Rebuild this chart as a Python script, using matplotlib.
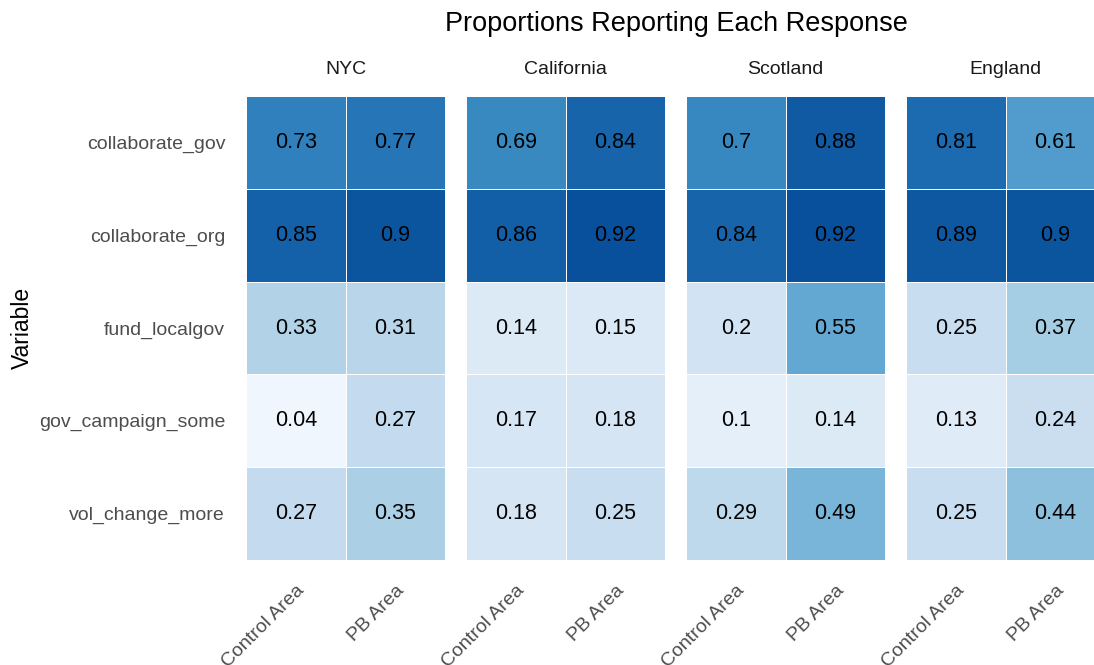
import numpy as np
import matplotlib
matplotlib.use("Agg")
import matplotlib.pyplot as plt

plt.rcParams['font.family'] = ['Liberation Sans', 'DejaVu Sans']

# data
regions = ["NYC", "California", "Scotland", "England"]
areas = ["Control Area", "PB Area"]
variables = ["collaborate_gov", "collaborate_org", "fund_localgov",
             "gov_campaign_some", "vol_change_more"]

# rows = variables, columns = (Control, PB)
nyc = [[0.73, 0.77], [0.85, 0.90], [0.33, 0.31], [0.04, 0.27], [0.27, 0.35]]
california = [[0.69, 0.84], [0.86, 0.92], [0.14, 0.15], [0.17, 0.18], [0.18, 0.25]]
scotland = [[0.70, 0.88], [0.84, 0.92], [0.20, 0.55], [0.10, 0.14], [0.29, 0.49]]
england = [[0.81, 0.61], [0.89, 0.90], [0.25, 0.37], [0.13, 0.24], [0.25, 0.44]]

panels = [nyc, california, scotland, england]

W, H = 1094, 665
fig = plt.figure(figsize=(W / 100, H / 100), dpi=100)

cmap = plt.get_cmap("Blues")
x0, pw, pitch = 246, 199, 220
top, bottom = 96, 560

for i, (name, vals) in enumerate(zip(regions, panels)):
    left = x0 + i * pitch
    ax = fig.add_axes([left / W, 1 - bottom / H, pw / W, (bottom - top) / H])
    arr = np.array(vals)
    ax.pcolormesh(np.arange(3), np.arange(6), arr, cmap=cmap, vmin=0, vmax=1.05,
                  edgecolors="white", linewidth=0.6)
    ax.set_xlim(0, 2)
    ax.set_ylim(5, 0)
    for r in range(arr.shape[0]):
        for c in range(arr.shape[1]):
            ax.text(c + 0.5, r + 0.5, f"{arr[r, c]:g}", ha="center", va="center",
                    fontsize=15.5, color="black")
    for s in ax.spines.values():
        s.set_visible(False)
    ax.set_xticks([0.5, 1.5])
    ax.set_xticklabels(areas, rotation=45, ha="right", va="top",
                       rotation_mode="anchor", fontsize=14, color="#4d4d4d")
    ax.tick_params(axis="x", length=0, pad=16)
    if i == 0:
        ax.set_yticks(np.arange(5) + 0.5)
        ax.set_yticklabels(variables, fontsize=14, color="#4d4d4d")
        ax.tick_params(axis="y", length=0, pad=15)
    else:
        ax.set_yticks([])
    ax.set_title(name, fontsize=14, color="#1a1a1a", pad=16)

fig.text(676 / W, 1 - 24 / H, "Proportions Reporting Each Response",
         ha="center", va="center", fontsize=19.5, color="black")
fig.text(22 / W, 1 - 328 / H, "Variable", rotation=90, ha="center", va="center",
         fontsize=16.5, color="black")

fig.savefig("out.png", dpi=100)
